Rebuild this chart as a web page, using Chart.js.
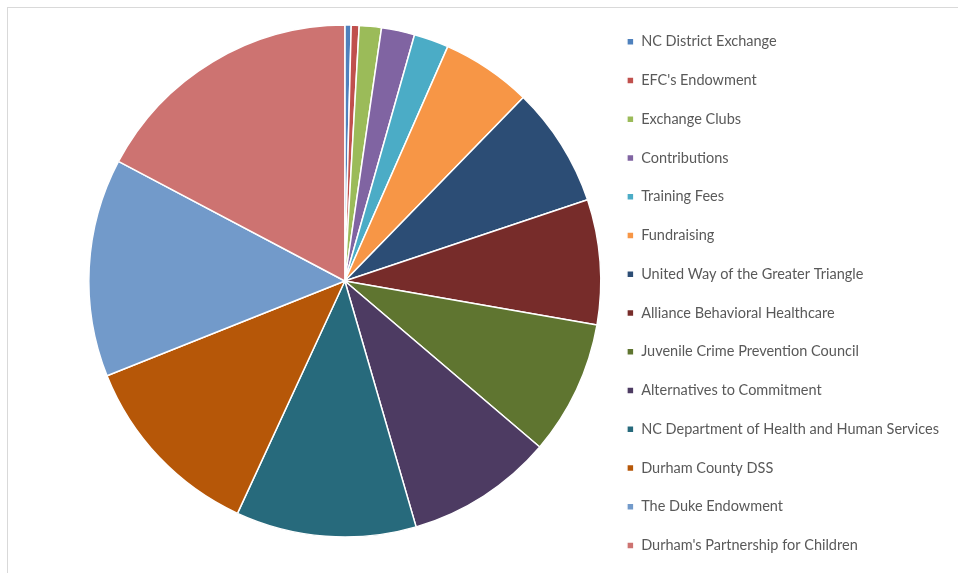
<!DOCTYPE html>
<html>
<head>
<meta charset="utf-8">
<script src="https://cdn.jsdelivr.net/npm/chart.js@4/dist/chart.umd.min.js"></script>
<style>
  html, body { margin: 0; padding: 0; background: #fff; overflow: hidden; }
  #wrap { position: absolute; left: 0; top: -15px; width: 958px; height: 600px; }
  #frame { position: absolute; left: 7px; top: 7px; width: 970px; height: 590px; border: 1px solid #d9d9d9; box-sizing: border-box; pointer-events: none; }
</style>
</head>
<body>
<div id="frame"></div>
<div id="wrap"><canvas id="c" width="958" height="600"></canvas></div>
<script>
const categories = [
  "NC District Exchange",
  "EFC's Endowment",
  "Exchange Clubs",
  "Contributions",
  "Training Fees",
  "Fundraising",
  "United Way of the Greater Triangle",
  "Alliance Behavioral Healthcare",
  "Juvenile Crime Prevention Council",
  "Alternatives to Commitment",
  "NC Department of Health and Human Services",
  "Durham County DSS",
  "The Duke Endowment",
  "Durham's Partnership for Children"
];
const shares = [0.4, 0.5, 1.4, 2.1, 2.2, 5.7, 7.6, 7.9, 8.5, 9.3, 11.4, 12.1, 13.8, 17.3];
const colors = [
  "#4F81BD", "#C0504D", "#9BBB59", "#8064A2", "#4BACC6", "#F79646",
  "#2C4D75", "#772C2A", "#5F7530", "#4D3B62", "#276A7C", "#B65708",
  "#729ACA", "#CD7371"
];

new Chart(document.getElementById('c'), {
  type: 'pie',
  data: {
    labels: categories,
    datasets: [{
      data: shares,
      backgroundColor: colors,
      borderColor: '#ffffff',
      borderWidth: 1.5,
      radius: 256
    }]
  },
  options: {
    responsive: false,
    animation: false,
    layout: { padding: { left: 87, right: 9, top: 0, bottom: 8 } },
    plugins: {
      tooltip: { enabled: false },
      legend: {
        position: 'right',
        align: 'end',
        labels: {
          boxWidth: 7,
          boxHeight: 7,
          padding: 24.25,
          color: '#595959',
          font: { family: 'Lato', size: 14.5 }
        }
      }
    }
  }
});
</script>
</body>
</html>
